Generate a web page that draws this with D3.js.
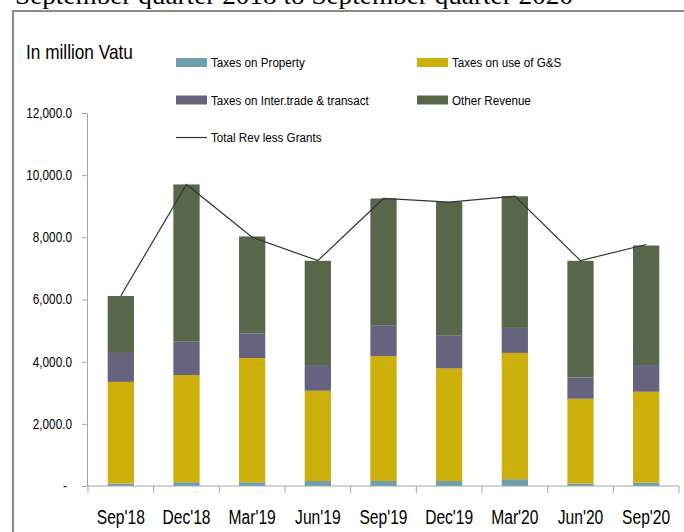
<!DOCTYPE html>
<html>
<head>
<meta charset="utf-8">
<script src="https://cdn.jsdelivr.net/npm/d3@7"></script>
<style>
  body { margin: 0; background: #fff; }
  text { font-family: "Liberation Sans", Arial, sans-serif; fill: #000; }
</style>
</head>
<body>
<div id="chart"></div>
<script>
// Chart data (million Vatu)
const quarters = ["Sep'18", "Dec'18", "Mar'19", "Jun'19", "Sep'19", "Dec'19", "Mar'20", "Jun'20", "Sep'20"];
const taxesProperty = [80, 120, 120, 160, 160, 160, 220, 80, 110];
const taxesGoodsServices = [3270, 3450, 3996, 2905, 4020, 3623, 4062, 2728, 2923];
const taxesInterTrade = [930, 1072, 793, 826, 975, 1051, 804, 686, 858];
const otherRevenue = [1833, 5059, 3119, 3354, 4095, 4308, 4234, 3751, 3847];
const totalRevLessGrants = [6120, 9700, 8000, 7250, 9250, 9130, 9325, 7250, 7770];
const yTicks = [0, 2000, 4000, 6000, 8000, 10000, 12000];

const seriesKeys = ["property", "gs", "trade", "other"];
const seriesNames = {
    property: "Taxes on Property",
    gs: "Taxes on use of G&S",
    trade: "Taxes on Inter.trade & transact",
    other: "Other Revenue"
};
const colors = {
    property: "#6e9fae",
    gs: "#cdb00b",
    trade: "#67627e",
    other: "#58674a"
};

const width = 684;
const height = 532;

const svg = d3.select("#chart")
    .append("svg")
    .attr("width", width)
    .attr("height", height);

// squeeze text horizontally (the original chart is narrow)
function squeeze(sel, k) {
    sel.each(function () {
        const w = this.getComputedTextLength();
        this.setAttribute("textLength", w * k);
        this.setAttribute("lengthAdjust", "spacingAndGlyphs");
    });
}

// Title, clipped by the top of the picture
svg.append("text")
    .attr("x", 15)
    .attr("y", 4)
    .attr("textLength", 558)
    .attr("lengthAdjust", "spacingAndGlyphs")
    .style("font-family", "'Liberation Serif', 'Times New Roman', serif")
    .style("font-size", "26px")
    .text("September  quarter 2018 to September  quarter 2020");

// Chart frame
svg.append("path")
    .attr("d", "M13,540V11H700")
    .attr("fill", "none")
    .attr("stroke", "#8c8c8c")
    .attr("stroke-width", 2);

// Unit label
svg.append("text")
    .attr("x", 26)
    .attr("y", 59)
    .style("font-size", "21px")
    .text("In million Vatu")
    .call(squeeze, 0.82);

// Scales
const x = d3.scaleBand()
    .domain(quarters)
    .range([88, 679])
    .paddingInner(0.6)
    .paddingOuter(0.3);

const y = d3.scaleLinear()
    .domain([0, 12000])
    .range([486, 113]);

// Stack the data
const rows = quarters.map((q, i) => ({
    quarter: q,
    property: taxesProperty[i],
    gs: taxesGoodsServices[i],
    trade: taxesInterTrade[i],
    other: otherRevenue[i]
}));
const stacked = d3.stack().keys(seriesKeys)(rows);

// Y axis
const yAxis = svg.append("g")
    .attr("transform", "translate(87,0)")
    .call(d3.axisLeft(y)
        .tickValues(yTicks)
        .tickSize(5)
        .tickSizeOuter(0)
        .tickPadding(10)
        .tickFormat(d => d === 0 ? "-" : d3.format(",.1f")(d)));
yAxis.select(".domain").attr("stroke", "#a6a6a6");
yAxis.selectAll(".tick line").attr("stroke", "#a6a6a6");
yAxis.selectAll(".tick text")
    .style("font-size", "14px")
    .style("font-family", "'Liberation Sans', Arial, sans-serif")
    .attr("fill", "#000")
    .attr("dx", d => d === 0 ? -5 : 0)
    .call(squeeze, 0.84);

// Bars
svg.append("g")
    .selectAll("g")
    .data(stacked)
    .join("g")
    .attr("fill", d => colors[d.key])
    .selectAll("rect")
    .data(d => d)
    .join("rect")
    .attr("x", d => x(d.data.quarter))
    .attr("y", d => y(d[1]))
    .attr("width", x.bandwidth())
    .attr("height", d => y(d[0]) - y(d[1]));

// X axis: line, category boundary ticks and labels
const gap = (x.step() - x.bandwidth()) / 2;
const boundaries = quarters.map(q => x(q) - gap).concat([x.range()[1]]);
const xAxis = svg.append("g");
xAxis.append("line")
    .attr("x1", x.range()[0])
    .attr("x2", x.range()[1])
    .attr("y1", y(0))
    .attr("y2", y(0))
    .attr("stroke", "#a6a6a6");
xAxis.selectAll("line.tick")
    .data(boundaries)
    .join("line")
    .attr("class", "tick")
    .attr("x1", d => d)
    .attr("x2", d => d)
    .attr("y1", y(0))
    .attr("y2", y(0) + 7)
    .attr("stroke", "#a6a6a6");
xAxis.selectAll("text")
    .data(quarters)
    .join("text")
    .attr("x", d => x(d) + x.bandwidth() / 2)
    .attr("y", 524)
    .attr("text-anchor", "middle")
    .style("font-size", "20px")
    .text(d => d)
    .call(squeeze, 0.78);

// Total revenue line
const line = d3.line()
    .x((d, i) => x(quarters[i]) + x.bandwidth() / 2)
    .y(d => y(d));
svg.append("path")
    .datum(totalRevLessGrants)
    .attr("d", line)
    .attr("fill", "none")
    .attr("stroke", "#333")
    .attr("stroke-width", 1.2);

// Legend
const legendItems = [
    { key: "property", col: 0, row: 0 },
    { key: "gs", col: 1, row: 0 },
    { key: "trade", col: 0, row: 1 },
    { key: "other", col: 1, row: 1 },
    { key: "total", col: 0, row: 2 }
];
const legend = svg.append("g");
const item = legend.selectAll("g")
    .data(legendItems)
    .join("g")
    .attr("transform", d => `translate(${d.col === 0 ? 176 : 417},${62.5 + d.row * 37.5})`);

item.filter(d => d.key !== "total")
    .append("rect")
    .attr("x", 0)
    .attr("y", -4.5)
    .attr("width", 31)
    .attr("height", 9)
    .attr("fill", d => colors[d.key]);

item.filter(d => d.key === "total")
    .append("line")
    .attr("x1", 0)
    .attr("x2", 31)
    .attr("stroke", "#333")
    .attr("stroke-width", 1.2);

item.append("text")
    .attr("x", 35)
    .attr("y", 4.5)
    .style("font-size", "12.5px")
    .text(d => d.key === "total" ? "Total Rev less Grants" : seriesNames[d.key])
    .call(squeeze, 0.93);
</script>
</body>
</html>
